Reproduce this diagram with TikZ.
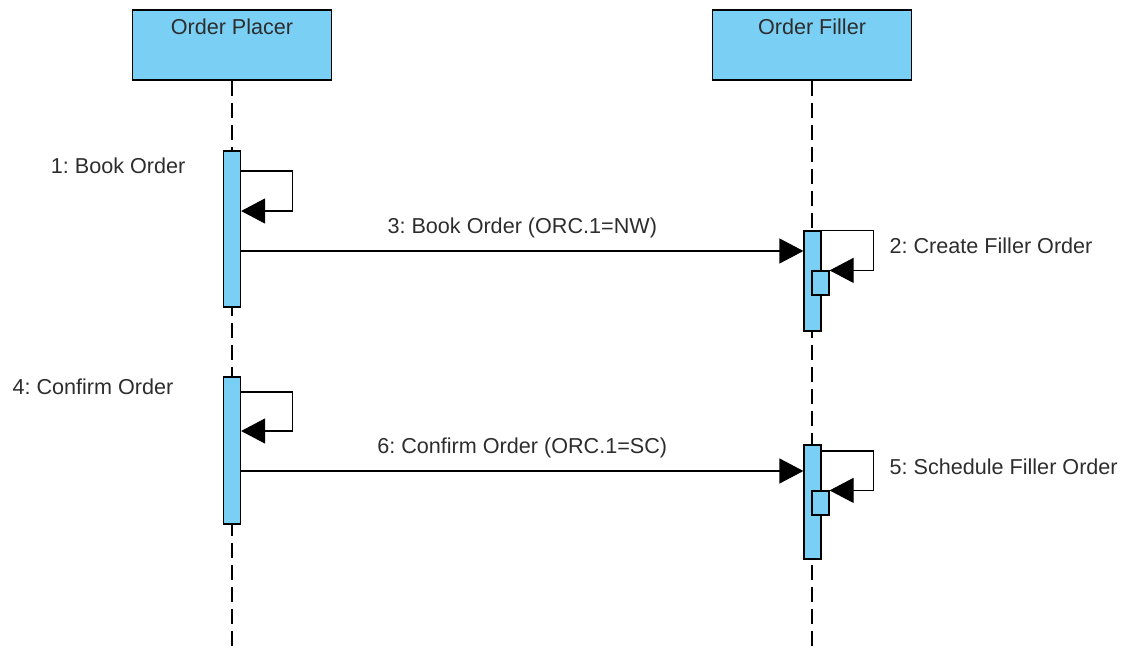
\documentclass[tikz,border=0pt]{standalone}
\usepackage{fontspec}
\setmainfont{Liberation Sans}
\usepackage{xcolor}
\usetikzlibrary{arrows.meta,positioning}
\definecolor{barfill}{RGB}{122,207,245}
\definecolor{txtgray}{RGB}{45,45,45}
\frenchspacing

\begin{document}
\begin{tikzpicture}[
  x=1pt, y=-1pt, line width=1.2pt,
  >={Triangle[length=24pt,width=25pt]},
  head/.style={draw, fill=barfill, minimum width=199pt, minimum height=70pt, inner sep=0pt},
  actbar/.style={draw, fill=barfill, minimum width=17pt, inner sep=0pt},
  subbar/.style={actbar, minimum height=24pt},
  life/.style={dash pattern=on 15pt off 7pt},
  lbl/.style={font=\fontsize{21.6}{24}\selectfont, text=txtgray, inner sep=0pt}]
\useasboundingbox (0,0) rectangle (1127,648);
% lifeline heads
\node[head] (placer) at (232,45) {};
\node[lbl, below=9pt of placer.north] (placerT) {Order Placer};
\node[head] (filler) at (812,45) {};
\node[lbl, below=9pt of filler.north] (fillerT) {Order Filler};
\coordinate (placerEnd) at (232,648);
\coordinate (fillerEnd) at (812,648);
\draw[life] (placer.south) -- (placerEnd);
\draw[life] (filler.south) -- (fillerEnd);
% activations
\node[actbar, minimum height=156pt] (pbarA) at (232,229) {};
\node[actbar, minimum height=147pt] (pbarB) at (232,450.5) {};
\node[actbar, minimum height=100pt] (fbarA) at (812.5,281) {};
\node[subbar] (fsubA) at (820.5,283) {};
\node[actbar, minimum height=114pt] (fbarB) at (812.5,502) {};
\node[subbar] (fsubB) at (820.5,503) {};
% self calls
\draw[->] (pbarA.east |- 0,171) -- ++(51,0) |- (pbarA.east |- 0,211);
\draw[->] (pbarB.east |- 0,392) -- ++(51,0) |- (pbarB.east |- 0,431);
\draw[->] (fbarA.north east) -- ++(52,0) |- (fsubA.north east);
\draw[->] (fbarB.east |- 0,451) -- ++(52,0) |- (fsubB.north east);
\node[lbl, anchor=east] (callA) at (186,166) {1: Book Order};
\node[lbl, anchor=east] (callD) at (174,387) {4: Confirm Order};
\node[lbl, anchor=west] (callB) at (889,246) {2: Create Filler Order};
\node[lbl, anchor=west] (callE) at (889,467) {5: Schedule Filler Order};
% messages
\draw[->] (pbarA.east |- 0,251) -- (fbarA.west |- 0,251)
  node[lbl, midway, yshift=23pt] (msgC) {3: Book Order (ORC.1=NW)};
\draw[->] (pbarB.east |- 0,471) -- (fbarB.west |- 0,471)
  node[lbl, midway, yshift=23pt] (msgF) {6: Confirm Order (ORC.1=SC)};
\end{tikzpicture}
\end{document}
